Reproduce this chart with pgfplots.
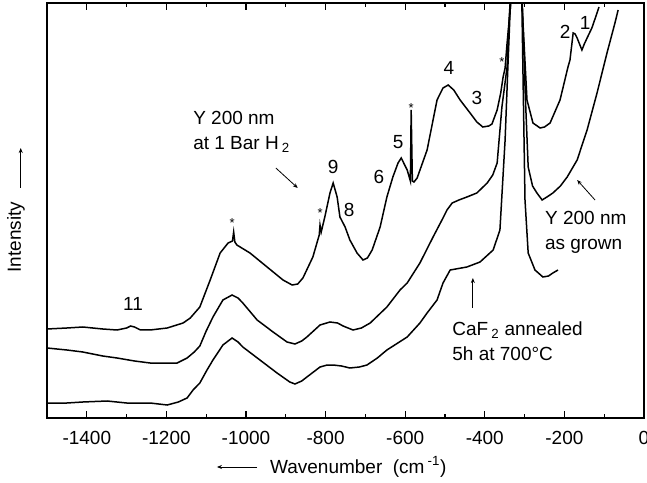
\documentclass[border=0pt]{standalone}
\usepackage{fontspec}
\setmainfont{Liberation Sans}
\usepackage{pgfplots}
\pgfplotsset{compat=1.18}
\usetikzlibrary{arrows.meta}
\newcommand\ff{\fontsize{19bp}{25bp}\selectfont}
\newcommand\starfont{\fontsize{13bp}{14bp}\selectfont}
\begin{document}
\ff
\begin{tikzpicture}[font=\ff]
\begin{axis}[
  at={(0,0)}, anchor=south west,
  scale only axis, width=597bp, height=415bp,
  xmin=-1500, xmax=0, ymin=0, ymax=415,
  xtick={-1400,-1200,...,0},
  minor xtick={-1300,-1100,...,-100},
  ytick=\empty,
  tick align=inside,
  major tick length=7bp, minor tick length=4.5bp,
  every tick/.style={line width=1.2bp, black},
  axis line style={line width=1.6bp},
  /pgf/number format/assume math mode=true,
  /pgf/number format/1000 sep={},
  xticklabel style={font=\ff, yshift=-7bp},
  clip mode=individual,
]
\addplot[black, line width=1.5bp] coordinates {
(-1500,89) (-1450,90) (-1410,91) (-1360,89) (-1324,88) (-1300,90) (-1290,92) (-1280,91) (-1265,88)
(-1241,88) (-1198,90) (-1158,95) (-1140,100) (-1116,111) (-1090,138) (-1065,165) (-1045,175)
(-1034,177) (-1031,186) (-1028,176) (-1023,173) (-990,165) (-947,151) (-907,138) (-884,133)
(-870,134) (-857,140) (-832,161) (-816,183) (-814,193) (-811,186) (-802,201) (-789,225) (-781,235)
(-771,221) (-764,201) (-751,191) (-739,178) (-721,165) (-706,158) (-695,160) (-683,168) (-663,191)
(-646,221) (-631,241) (-618,255) (-610,260) (-595,248) (-587,237) (-585,308) (-582,237) (-578,236)
(-570,240) (-545,268) (-520,318) (-505,330) (-492,333) (-478,328) (-462,318) (-437,305) (-420,296)
(-405,291) (-390,292) (-382,294) (-369,308) (-360,325) (-354,341) (-349,350) (-344,375) (-337,405)
(-334,418) (-321,480) (-307,418) (-294,318) (-279,295) (-261,290) (-250,291) (-236,295) (-211,318)
(-191,351) (-186,358) (-178,385) (-173,384) (-168,380) (-156,368) (-150,374) (-143,380) (-131,390)
(-118,405) (-113,411)
};
\addplot[black, line width=1.5bp] coordinates {
(-1500,70) (-1450,68) (-1410,66) (-1360,62) (-1324,60) (-1280,57) (-1241,55) (-1198,55) (-1173,55)
(-1148,60) (-1130,66) (-1116,72) (-1100,87) (-1083,101) (-1058,118) (-1035,123) (-1020,120)
(-1008,115) (-972,98) (-932,86) (-897,76) (-877,74) (-860,77) (-847,81) (-814,93) (-789,96)
(-770,95) (-756,92) (-731,88) (-710,90) (-688,95) (-646,111) (-613,128) (-595,135) (-563,155)
(-530,181) (-505,200) (-495,208) (-482,215) (-465,218) (-445,221) (-420,225) (-394,235) (-380,243)
(-369,255) (-357,311) (-344,351) (-339,398) (-336,418) (-322,480) (-306,418) (-298,320) (-291,251)
(-280,232) (-269,225) (-256,218) (-240,222) (-229,225) (-210,232) (-193,241) (-168,258) (-143,288)
(-118,325) (-93,365) (-73,395) (-65,408)
};
\addplot[black, line width=1.5bp] coordinates {
(-1500,15) (-1450,15) (-1410,16) (-1349,17) (-1300,15) (-1241,15) (-1198,13) (-1170,16) (-1148,20)
(-1133,28) (-1116,35) (-1098,48) (-1083,58) (-1058,73) (-1035,80) (-1020,76) (-1008,71) (-965,58)
(-922,45) (-890,36) (-877,34) (-860,37) (-847,41) (-814,51) (-796,53) (-781,53) (-760,52) (-739,50)
(-715,51) (-696,53) (-670,60) (-646,68) (-595,81) (-563,95) (-545,105) (-520,118) (-505,135)
(-487,148) (-445,151) (-412,156) (-379,168) (-362,188) (-349,278) (-342,351) (-337,401) (-335,418)
(-322,480) (-307,418) (-299,218) (-291,165) (-274,148) (-254,141) (-240,142) (-229,145) (-216,148)
};
% peak labels
\node at (axis cs:-781,251) {9};
\node at (axis cs:-741,208) {8};
\node at (axis cs:-666,241) {6};
\node at (axis cs:-618,276) {5};
\node at (axis cs:-490,350) {4};
\node at (axis cs:-420,320) {3};
\node at (axis cs:-198,386) {2};
\node at (axis cs:-148,395) {1};
\node at (axis cs:-1284,114) {11};
\node[font=\starfont] at (axis cs:-1035,195) {*};
\node[font=\starfont] at (axis cs:-814,205) {*};
\node[font=\starfont] at (axis cs:-585,310) {*};
\node[font=\starfont] at (axis cs:-357,356) {*};
% annotations
\node[anchor=west, align=left, inner sep=0pt] at (axis cs:-1133,286) {Y 200 nm\\at 1 Bar H\,\textsubscript{2}};
\draw[line width=0.8bp, -{Stealth[length=5bp,width=4bp]}] (axis cs:-925,250) -- (axis cs:-870,230);
\node[anchor=west, align=left, inner sep=0pt] at (axis cs:-249,186) {Y 200 nm\\as grown};
\draw[line width=0.8bp, -{Stealth[length=5bp,width=4bp]}] (axis cs:-123,218) -- (axis cs:-168,238);
\node[anchor=west, align=left, inner sep=0pt] at (axis cs:-482,77) {CaF\,\textsubscript{2} annealed\\5h at 700°C};
\draw[line width=0.8bp, -{Stealth[length=5bp,width=4bp]}] (axis cs:-430,110) -- (axis cs:-430,140);
% axis labels
\node[anchor=west, inner sep=0pt] at (axis cs:-940,-49) {Wavenumber~~(cm\,\textsuperscript{-1})};
\draw[line width=0.8bp, -{Stealth[length=5bp,width=4bp]}] (axis cs:-972,-49) -- (axis cs:-1073,-49);
\node[rotate=90, inner sep=0pt] at (axis cs:-1578,181) {Intensity};
\draw[line width=0.8bp, -{Stealth[length=5bp,width=4bp]}] (axis cs:-1566,230) -- (axis cs:-1566,270);
\end{axis}
\pgfresetboundingbox
\path[use as bounding box] (-47bp,-65bp) rectangle (600bp,418bp);
\end{tikzpicture}
\end{document}
